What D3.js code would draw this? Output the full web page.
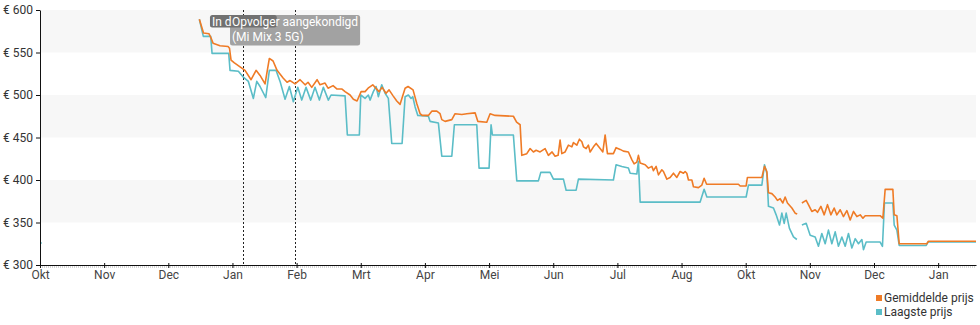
<!DOCTYPE html>
<html>
<head>
<meta charset="utf-8">
<script src="https://cdn.jsdelivr.net/npm/d3@7"></script>
<style>
  body { margin: 0; background: #fff; }
  svg { display: block; font-family: Roboto, "Noto Sans", sans-serif; }
</style>
</head>
<body>
<svg id="chart" width="980" height="325"></svg>
<script>
// Month ticks along the time axis (one tick per month step)
const monthLabels = ["Okt", "Nov", "Dec", "Jan", "Feb", "Mrt", "Apr", "Mei", "Jun", "Jul", "Aug", "Okt", "Nov", "Dec", "Jan"];
const priceTicks = [300, 350, 400, 450, 500, 550, 600];

// [month offset from the first tick, price in euro]; null marks a gap in the data
const avgPrice = [
  [2.484,589],[2.549,573],[2.635,572],[2.666,567],[2.697,561],[2.806,558],[2.931,557],[2.954,555],[2.978,541],[3.025,538],
  [3.118,533],[3.196,529],[3.290,518],[3.368,529],[3.430,523],[3.508,513],[3.575,543],[3.633,540],[3.695,529],[3.789,520],
  [3.851,515],[3.898,517],[3.976,513],[4.054,518],[4.132,512],[4.178,515],[4.236,509],[4.319,518],[4.365,512],[4.443,514],
  [4.490,508],[4.568,511],[4.631,507],[4.708,507],[4.755,504],[4.833,500],[4.885,495],[4.942,493],[5.005,504],[5.067,504],
  [5.114,508],[5.187,512],[5.223,509],[5.285,504],[5.332,509],[5.394,502],[5.441,506],[5.504,499],[5.561,493],[5.613,489],
  [5.691,508],[5.737,510],[5.815,506],[5.873,490],[5.925,478],[5.956,476],[6.054,476],[6.107,481],[6.185,481],[6.236,478],
  [6.263,471],[6.314,469],[6.419,471],[6.470,478],[6.575,477],[6.653,478],[6.782,479],[6.824,469],[6.964,468],[7.016,478],
  [7.094,476],[7.379,475],[7.429,468],[7.484,465],[7.510,429],[7.588,431],[7.640,437],[7.691,433],[7.733,435],[7.795,433],
  [7.873,437],[7.925,429],[7.982,433],[8.029,428],[8.076,429],[8.107,447],[8.134,431],[8.185,433],[8.237,441],[8.290,439],
  [8.315,444],[8.368,441],[8.408,448],[8.446,445],[8.471,439],[8.513,437],[8.548,441],[8.575,433],[8.627,439],[8.669,443],
  [8.731,437],[8.773,433],[8.809,453],[8.845,431],[8.938,431],[8.980,438],[9.043,436],[9.094,434],[9.172,433],[9.225,424],
  [9.261,419],[9.303,421],[9.328,429],[9.355,420],[9.433,418],[9.484,414],[9.537,416],[9.562,411],[9.604,416],[9.640,406],
  [9.693,412],[9.718,410],[9.771,401],[9.822,403],[9.874,408],[9.927,403],[9.978,410],[10.030,408],[10.056,410],[10.082,408],
  [10.108,400],[10.161,400],[10.186,392],[10.264,391],[10.317,394],[10.352,402],[10.391,395],[10.887,395],[10.914,393],[11.007,393],
  [11.027,403],[11.252,403],[11.293,416],[11.330,410],[11.355,385],[11.408,384],[11.459,380],[11.495,376],[11.537,378],[11.579,373],
  [11.615,380],[11.651,373],[11.720,367],[11.771,361],[11.803,360],
  [11.84,null],
  [11.876,373],[11.943,376],[11.978,371],[12.031,363],[12.083,365],[12.119,362],[12.172,369],[12.224,359],[12.275,371],[12.328,359],
  [12.379,367],[12.421,359],[12.473,365],[12.524,357],[12.577,364],[12.629,353],[12.680,363],[12.733,357],[12.785,359],[12.827,355],
  [12.863,358],[13.096,358],[13.138,355],[13.174,389],[13.294,389],[13.315,359],[13.357,358],[13.393,325],[13.824,325],[13.849,328],
  [14.59,328]
];

const lowPrice = [
  [0,326],[1,null],
  [2.484,589],[2.546,569],[2.661,569],[2.682,549],[2.942,549],[2.962,529],[3.092,528],[3.170,521],[3.248,516],[3.326,496],
  [3.379,516],[3.430,510],[3.519,497],[3.575,529],[3.679,529],[3.742,516],[3.820,495],[3.887,510],[3.949,492],[4.018,509],
  [4.080,494],[4.147,509],[4.220,494],[4.287,509],[4.355,494],[4.417,509],[4.495,494],[4.537,500],[4.755,499],[4.791,453],
  [4.978,453],[5.000,500],[5.067,496],[5.118,500],[5.145,494],[5.196,504],[5.239,510],[5.274,498],[5.327,512],[5.379,502],
  [5.430,496],[5.483,443],[5.644,443],[5.691,498],[5.742,500],[5.784,496],[5.811,498],[5.847,486],[5.889,476],[6.054,475],
  [6.080,469],[6.210,467],[6.263,428],[6.419,428],[6.459,465],[6.808,465],[6.844,414],[7.000,414],[7.031,465],[7.052,453],
  [7.379,453],[7.432,399],[7.769,399],[7.806,409],[7.951,409],[8.003,401],[8.159,401],[8.201,388],[8.357,388],[8.393,401],
  [8.938,400],[8.980,418],[9.069,416],[9.172,414],[9.199,408],[9.303,407],[9.328,422],[9.355,374],[10.290,374],[10.352,389],
  [10.395,380],[11.007,380],[11.043,394],[11.252,394],[11.293,418],[11.330,408],[11.355,369],[11.433,367],[11.475,359],[11.527,347],
  [11.564,361],[11.600,349],[11.631,361],[11.682,343],[11.745,333],[11.798,330],
  [11.84,null],
  [11.876,347],[11.943,349],[12.005,335],[12.083,333],[12.134,322],[12.187,337],[12.239,325],[12.290,341],[12.343,325],[12.395,339],
  [12.446,322],[12.499,333],[12.551,322],[12.602,337],[12.655,320],[12.707,331],[12.758,325],[12.811,330],[12.836,318],[12.878,327],
  [13.096,327],[13.132,322],[13.163,373],[13.294,373],[13.315,347],[13.357,341],[13.393,323],[13.814,323],[13.840,327],[14.59,327]
];

// Marked events on the timeline
const eventMonths = [3.170, 3.976];
const eventLabels = [["In de winkel"], ["Opvolger aangekondigd", "(Mi Mix 3 5G)"]];

const seriesNames = ["Gemiddelde prijs", "Laagste prijs"];
const seriesColors = ["#ef7b26", "#5bbdc7"];

const svg = d3.select("#chart");
const x = d3.scaleLinear().domain([0, 14.59]).range([40, 976]);
const y = d3.scaleLinear().domain([300, 600]).range([265, 10]);

// alternating horizontal bands between price ticks
const bands = d3.pairs(priceTicks);
svg.append("g").selectAll("rect").data(bands).join("rect")
  .attr("x", x.range()[0])
  .attr("width", x.range()[1] - x.range()[0])
  .attr("y", d => y(d[1]))
  .attr("height", d => y(d[0]) - y(d[1]))
  .attr("fill", (d, i) => (bands.length - 1 - i) % 2 === 0 ? "#f7f7f7" : "#ffffff");

// event markers
svg.append("g").selectAll("line").data(eventMonths).join("line")
  .attr("x1", d => Math.round(x(d)) + 0.5).attr("x2", d => Math.round(x(d)) + 0.5)
  .attr("y1", y(600)).attr("y2", y(300))
  .attr("stroke", "#222").attr("stroke-width", 1).attr("stroke-dasharray", "2,2");

// price lines
const line = d3.line()
  .defined(d => d[1] != null)
  .x(d => x(d[0]))
  .y(d => y(d[1]));

const seriesData = [avgPrice, lowPrice];
const drawOrder = [1, 0];
drawOrder.forEach(k => {
  const data = seriesData[k];
  svg.append("path")
    .datum(data)
    .attr("fill", "none")
    .attr("stroke", seriesColors[k])
    .attr("stroke-width", 1.6)
    .attr("stroke-linejoin", "round")
    .attr("d", line);
  // single readings with no neighbours
  const lone = data.filter((d, i) => d[1] != null &&
    (i === 0 || data[i - 1][1] == null) && (i === data.length - 1 || data[i + 1][1] == null));
  svg.append("g").selectAll("circle").data(lone).join("circle")
    .attr("cx", d => x(d[0]) + 1).attr("cy", d => y(d[1]))
    .attr("r", 1).attr("fill", seriesColors[k]).attr("opacity", 0.8);
});

// axes
const yAxis = svg.append("g")
  .attr("transform", `translate(${x.range()[0]},0)`)
  .call(d3.axisLeft(y).tickValues(priceTicks).tickFormat(d => "€ " + d).tickSize(4).tickSizeOuter(0).tickPadding(3));
yAxis.select(".domain").attr("stroke", "#111");
yAxis.selectAll(".tick line").attr("stroke", "#111");
yAxis.selectAll("text").attr("fill", "#333").attr("font-size", 12).attr("font-family", "Roboto, sans-serif");

// fine gray tick band under the time axis
svg.append("line")
  .attr("x1", x.range()[0]).attr("x2", x.range()[1])
  .attr("y1", y(300) + 2).attr("y2", y(300) + 2)
  .attr("stroke", "#c9c9c9").attr("stroke-width", 1.5).attr("stroke-dasharray", "1,1");

const xAxis = svg.append("g")
  .attr("transform", `translate(0,${y(300)})`)
  .call(d3.axisBottom(x).tickValues(d3.range(monthLabels.length)).tickFormat(i => monthLabels[i])
    .tickSize(3).tickSizeOuter(0).tickPadding(2));
xAxis.select(".domain").attr("stroke", "#111");
xAxis.selectAll(".tick line").attr("stroke", "#111").attr("y1", -2);
xAxis.selectAll("text").attr("fill", "#444").attr("font-size", 12).attr("font-family", "Roboto, sans-serif");

// event labels: boxes centred on their marker line
const labelLayer = svg.append("g").attr("font-size", 12).attr("fill", "#fff");
const probe = labelLayer.append("text").attr("x", -1000).attr("y", -1000);
const textWidth = s => { probe.text(s); return probe.node().getComputedTextLength(); };
const boxes = eventMonths.map((m, i) => {
  const w = d3.max(eventLabels[i], textWidth);
  return { x0: x(m) - w / 2 - 2, w: w + 4, h: eventLabels[i].length * 15 + 0.5 };
});
const boxColors = ["#717171", "#a2a2a2"];
const boxTop = y(600) + 5;

// the first label is cut where the second label's text begins
const room = boxes[1].x0 - boxes[0].x0 + 1;
let firstText = eventLabels[0][0];
while (firstText.length > 1 && textWidth(firstText) > room) firstText = firstText.slice(0, -1);
probe.remove();

// second box sits underneath the first
labelLayer.append("rect")
  .attr("x", boxes[1].x0).attr("y", boxTop).attr("width", boxes[1].w).attr("height", boxes[1].h)
  .attr("rx", 2.5).attr("fill", boxColors[1]);
labelLayer.append("rect")
  .attr("x", boxes[0].x0).attr("y", boxTop).attr("width", boxes[0].w).attr("height", boxes[0].h - 3)
  .attr("rx", 2.5).attr("fill", boxColors[0]);

labelLayer.append("text")
  .attr("x", boxes[0].x0 + 2).attr("y", boxTop + 10.5)
  .text(firstText);
eventLabels[1].forEach((s, j) => {
  labelLayer.append("text")
    .attr("x", boxes[1].x0 + 2).attr("y", boxTop + 10.5 + j * 15.5)
    .text(s);
});

// legend
const legend = svg.append("g").attr("font-size", 12).attr("fill", "#333");
seriesNames.forEach((name, i) => {
  legend.append("rect").attr("x", 876).attr("y", 295 + i * 14).attr("width", 6).attr("height", 6)
    .attr("fill", seriesColors[i]);
  legend.append("text").attr("x", 884).attr("y", 301.5 + i * 14).text(name);
});
</script>
</body>
</html>
